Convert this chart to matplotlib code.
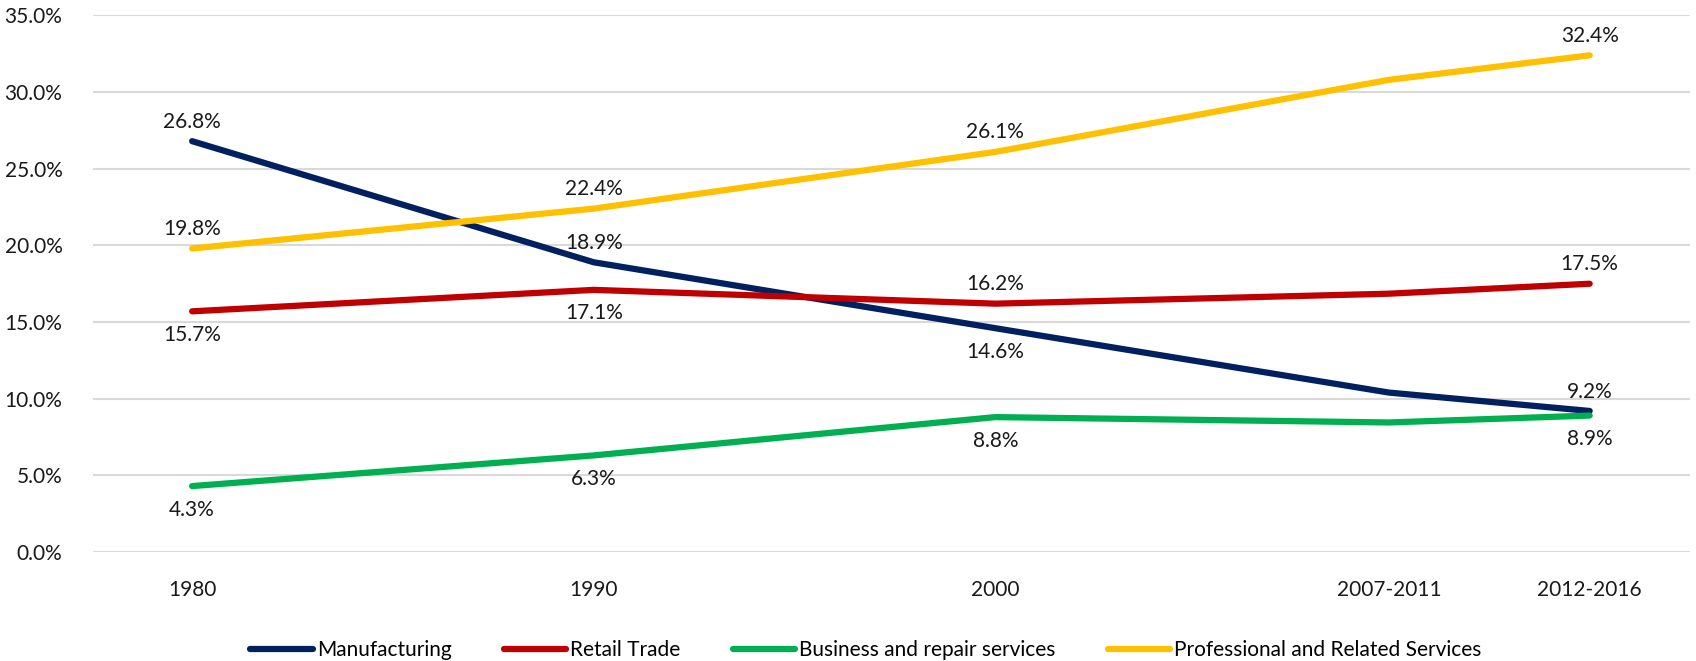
import matplotlib
matplotlib.use("Agg")
import numpy as np
from matplotlib import pyplot as plt

periods = ["1980", "1990", "2000", "2007-2011", "2012-2016"]
x_pos = [1980, 1990, 2000, 2009.8, 2014.8]

manufacturing = [26.8, 18.9, 14.6, 10.4, 9.2]
retail = [15.7, 17.1, 16.2, 16.85, 17.5]
business = [4.3, 6.3, 8.8, 8.45, 8.9]
professional = [19.8, 22.4, 26.1, 30.8, 32.4]

names = ["Manufacturing", "Retail Trade", "Business and repair services",
         "Professional and Related Services"]
colors = ["#002060", "#C00000", "#00B050", "#FFC000"]
# label placement per point: 1 above, -1 below, 0 none
label_side = [
    [1, 1, -1, 0, 1],
    [-1, -1, 1, 0, 1],
    [-1, -1, -1, 0, -1],
    [1, 1, 1, 0, 1],
]

plt.rcParams['font.family'] = ['Lato', 'DejaVu Sans']

fig = plt.figure(figsize=(16.96, 6.61), dpi=100)
ax = fig.add_axes([0.0548, 0.1649, 0.9417, 0.8117])

series = [manufacturing, retail, business, professional]
for vals, name, col, sides in zip(series, names, colors, label_side):
    ax.plot(x_pos, vals, color=col, lw=4.5, label=name,
            solid_capstyle='round', solid_joinstyle='round', zorder=3)
    for xv, yv, s in zip(x_pos, vals, sides):
        if s == 0:
            continue
        off = 14 if s > 0 else -17
        ax.annotate(f"{yv:.1f}%", (xv, yv), xytext=(0, off),
                    textcoords='offset points', ha='center', va='center',
                    fontsize=15, color='#1a1a1a')

ax.set_xlim(1977.53, 2017.3)
ax.set_ylim(0, 35)
ax.set_yticks(np.arange(0, 36, 5))
ax.set_yticklabels([f"{v:.1f}%" for v in np.arange(0, 36, 5)])
ax.set_xticks(x_pos)
ax.set_xticklabels(periods)
ax.tick_params(length=0, labelsize=15, colors='#1a1a1a')
ax.tick_params(axis='x', pad=20)
ax.tick_params(axis='y', pad=22)
ax.grid(axis='y', color='#D9D9D9', lw=1.5)
ax.set_axisbelow(True)
for sp in ax.spines.values():
    sp.set_visible(False)

ax.legend(loc='lower center', bbox_to_anchor=(0.484, -0.237), ncol=4,
          frameon=False, fontsize=15, handlelength=3, columnspacing=2.5,
          handletextpad=0.2)

fig.savefig("out.png", dpi=100)
